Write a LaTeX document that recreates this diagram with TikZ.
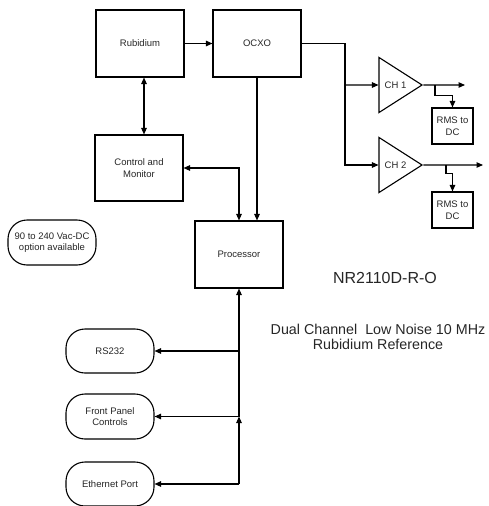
\documentclass[tikz,border=0pt]{standalone}
\usepackage{fontspec}
\setmainfont{Liberation Sans}
\usetikzlibrary{arrows.meta,positioning,shapes.geometric,calc}

\begin{document}
\begin{tikzpicture}[x=1pt, y=-1pt,
  line width=1.1pt, >={Triangle[length=6.5pt,width=5.5pt]},
  every node/.style={font=\fontsize{9.5}{11.6}\selectfont, text=black!85, align=center},
  block/.style={draw, line width=1.1pt, minimum width=88pt, minimum height=67pt, inner sep=0pt},
  pill/.style={draw, line width=1.1pt, rounded corners=19pt, minimum width=88pt, minimum height=44pt, inner sep=0pt},
  rmsbox/.style={draw, line width=1.1pt, minimum width=41pt, minimum height=36pt, inner sep=0pt},
  amp/.style={draw, line width=1.1pt, isosceles triangle, isosceles triangle stretches,
    minimum width=55pt, minimum height=43pt, inner sep=0pt}]
  \useasboundingbox (0,0) rectangle (488,506);
  % Main blocks
  \node[block] (rub) at (140,43.5) {Rubidium};
  \node[block] (ocxo) at (257,43.5) {OCXO};
  \node[block, minimum height=66pt] (ctrl) at (139,168) {Control and\\Monitor};
  \node[block] (proc) at (239,254.5) {Processor};
  % Output channels
  \node[amp] (ch1) at (395.5,85) {CH 1};
  \node[amp] (ch2) at (395.5,165) {CH 2};
  \node[rmsbox] (rms1) at (452.5,126) {RMS to\\DC};
  \node[rmsbox] (rms2) at (452.5,210) {RMS to\\DC};
  % Interfaces
  \node[pill, minimum height=45pt] (pwr) at (52,242.5) {90 to 240 Vac-DC\\option available};
  \node[pill] (rs) at (110,351) {RS232};
  \node[pill, minimum height=45pt] (fp) at (110,416.5) {Front Panel\\Controls};
  \node[pill] (eth) at (110,484) {Ethernet Port};
  % Titles
  \node[font=\fontsize{16}{19}\selectfont] (model) at (385,278) {NR2110D-R-O};
  \node[font=\fontsize{14.3}{15.5}\selectfont] (desc) at (378,337) {Dual Channel\ \ Low Noise 10 MHz\\Rubidium Reference};

  \coordinate (bus) at (345,85);
  \coordinate (tap1) at (435,85);
  \coordinate (tap2) at (446,165);
  \coordinate (out1) at (465,85);
  \coordinate (out2) at (483,165);
  \coordinate (jrs) at (239,351);
  \coordinate (jfp) at (239,416.5);
  \coordinate (jeth) at (239,484);

  % Connectors
  \draw[->] (rub) -- (ocxo);
  \draw[<->] ([xshift=4pt]rub.south) -- ([xshift=4pt]rub.south |- ctrl.north);
  \draw[->] (ocxo.south) -- (ocxo.south |- proc.north);
  \draw[<->] (ctrl.east) -| (proc.north);
  \draw (ocxo.east) -| (bus);
  \draw[->] (bus) |- (ch2.west);
  \draw[->] (bus) -- (ch1.west);
  \draw[->] (ch1.east) -- (out1);
  \draw[->] (ch2.east) -- (out2);
  \draw[->] (tap1) |- ([yshift=12pt]rms1.north) -- (rms1.north);
  \draw[->] (tap2) |- ([yshift=18pt]rms2.north) -- (rms2.north);
  \draw[->] (jfp) -- (proc.south);
  \draw[->] (jeth) -- (jfp);
  \draw[->] (jrs) -- (rs.east);
  \draw[->] (jfp) -- (fp.east);
  \draw[->] (jeth) -- (eth.east);
\end{tikzpicture}
\end{document}
